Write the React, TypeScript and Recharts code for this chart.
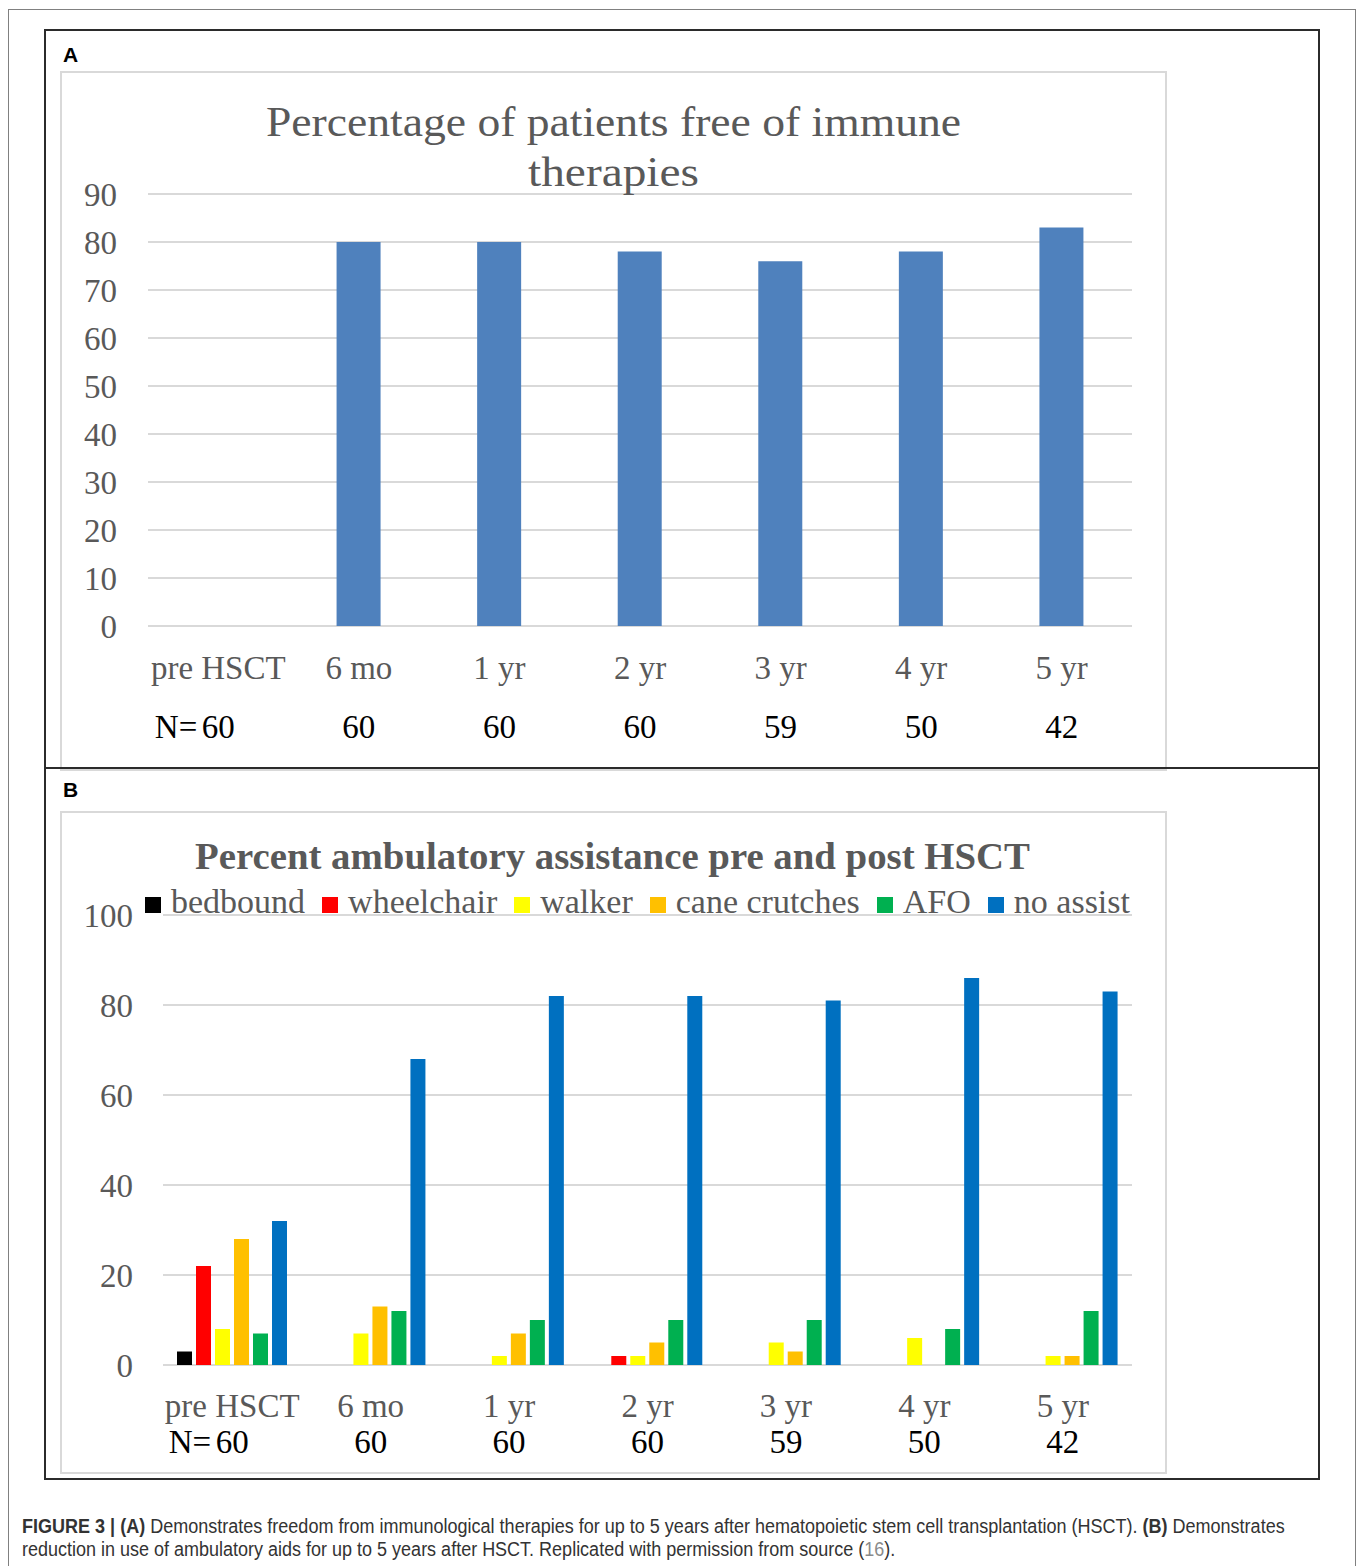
import React, { useLayoutEffect, useRef, useState } from 'react';
import { BarChart, Bar, XAxis, YAxis, CartesianGrid } from 'recharts';

// time points and number of patients at each
const categories = ['pre HSCT', '6 mo', '1 yr', '2 yr', '3 yr', '4 yr', '5 yr'];
const nCounts = [60, 60, 60, 60, 59, 50, 42];

// panel A: % free of immune therapies
const freeOfImmuneTherapy = [0, 80, 80, 78, 76, 78, 83];
const ticksA = [0, 10, 20, 30, 40, 50, 60, 70, 80, 90];

// panel B: % by ambulatory assistance
const bedbound = [3, 0, 0, 0, 0, 0, 0];
const wheelchair = [22, 0, 0, 2, 0, 0, 0];
const walker = [8, 7, 2, 2, 5, 6, 2];
const caneCrutches = [28, 13, 7, 5, 3, 0, 2];
const afo = [7, 12, 10, 10, 10, 8, 12];
const noAssist = [32, 68, 82, 82, 81, 86, 83];
const ticksB = [0, 20, 40, 60, 80, 100];

const seriesB = [
  { key: 'bedbound', name: 'bedbound', color: '#000000', values: bedbound },
  { key: 'wheelchair', name: 'wheelchair', color: '#ff0000', values: wheelchair },
  { key: 'walker', name: 'walker', color: '#ffff00', values: walker },
  { key: 'cane', name: 'cane crutches', color: '#ffc000', values: caneCrutches },
  { key: 'afo', name: 'AFO', color: '#00b050', values: afo },
  { key: 'none', name: 'no assist', color: '#0070c0', values: noAssist },
];

const dataA = categories.map((c, i) => ({ cat: c, free: freeOfImmuneTherapy[i] }));
const dataB = categories.map((c, i) => {
  const row: Record<string, string | number> = { cat: c };
  seriesB.forEach((s) => (row[s.key] = s.values[i]));
  return row;
});

const SERIF = '"Liberation Serif", "Times New Roman", serif';
const SANS = '"Liberation Sans", Arial, sans-serif';
const GRAY = '#595959';
const GRID = '#d9d9d9';

// category label + "N=" row under each group
// eslint-disable-next-line @typescript-eslint/no-explicit-any
function CategoryTick(props: any) {
  const { x, y, payload, labelDy, nDy } = props;
  const i = categories.indexOf(payload.value);
  return (
    <g fontFamily={SERIF} fontSize={33}>
      <text x={x} y={y + labelDy} textAnchor="middle" fill={GRAY}>
        {payload.value}
      </text>
      {i === 0 && (
        <text x={x - 21} y={y + nDy} textAnchor="end" fill="#000">
          N=
        </text>
      )}
      <text x={x} y={y + nDy} textAnchor="middle" fill="#000">
        {nCounts[i]}
      </text>
    </g>
  );
}

// caption line squeezed horizontally to the width of the original (condensed face)
function CaptionLine({ top, width, children }: { top: number; width: number; children: React.ReactNode }) {
  const ref = useRef<HTMLSpanElement>(null);
  const [scale, setScale] = useState(1);
  useLayoutEffect(() => {
    if (ref.current) setScale(width / ref.current.offsetWidth);
  }, [width]);
  return (
    <span
      ref={ref}
      style={{
        position: 'absolute',
        left: 22,
        top,
        whiteSpace: 'nowrap',
        fontFamily: SANS,
        fontSize: 19.5,
        lineHeight: '22px',
        color: '#333',
        transform: `scaleX(${scale})`,
        transformOrigin: '0 0',
      }}
    >
      {children}
    </span>
  );
}

const yTick = { fill: GRAY, fontSize: 33, fontFamily: SERIF };

export default function App() {
  return (
    <div style={{ position: 'relative', width: 1357, height: 1566, background: '#fff', overflow: 'hidden' }}>
      <style>{'body{margin:0}'}</style>

      {/* outer page frame */}
      <div style={{ position: 'absolute', left: 8, top: 9, width: 1348, height: 1600, border: '1px solid #808080', boxSizing: 'border-box' }} />
      {/* chart frames */}
      <div style={{ position: 'absolute', left: 60, top: 71, width: 1107, height: 700, border: `2px solid ${GRID}`, boxSizing: 'border-box' }} />
      <div style={{ position: 'absolute', left: 60, top: 811, width: 1107, height: 663, border: `2px solid ${GRID}`, boxSizing: 'border-box' }} />
      {/* black figure box with divider */}
      <div style={{ position: 'absolute', left: 44, top: 29, width: 1276, height: 1451, border: '2px solid #2b2b2b', boxSizing: 'border-box' }} />
      <div style={{ position: 'absolute', left: 44, top: 767, width: 1276, height: 2, background: '#2b2b2b' }} />

      <div style={{ position: 'absolute', left: 60, top: 71 }}>
        <BarChart width={1106} height={697} data={dataA} margin={{ top: 123, right: 34, left: 0, bottom: 0 }}>
          <CartesianGrid vertical={false} stroke={GRID} strokeWidth={2} />
          <XAxis
            dataKey="cat"
            axisLine={false}
            tickLine={false}
            tickSize={0}
            tickMargin={0}
            height={142}
            interval={0}
            tick={<CategoryTick labelDy={53} nDy={112} />}
          />
          <YAxis
            domain={[0, 90]}
            ticks={ticksA}
            width={88}
            axisLine={false}
            tickLine={false}
            tickSize={0}
            tickMargin={31}
            tick={yTick}
          />
          <Bar dataKey="free" fill="#4f81bd" barSize={44} isAnimationActive={false} />
        </BarChart>
      </div>

      <div style={{ position: 'absolute', left: 61, top: 811 }}>
        <BarChart width={1105} height={662} data={dataB} margin={{ top: 104, right: 34, left: 0, bottom: 0 }} barGap={4}>
          <CartesianGrid vertical={false} stroke={GRID} strokeWidth={2} />
          <XAxis
            dataKey="cat"
            axisLine={false}
            tickLine={false}
            tickSize={0}
            tickMargin={0}
            height={108}
            interval={0}
            tick={<CategoryTick labelDy={52} nDy={88} />}
          />
          <YAxis
            domain={[0, 100]}
            ticks={ticksB}
            width={102}
            axisLine={false}
            tickLine={false}
            tickSize={0}
            tickMargin={30}
            tick={yTick}
          />
          {seriesB.map((s) => (
            <Bar key={s.key} dataKey={s.key} name={s.name} fill={s.color} barSize={15} isAnimationActive={false} />
          ))}
        </BarChart>
      </div>

      {/* legend for B */}
      <div
        style={{
          position: 'absolute',
          left: 140,
          top: 885,
          width: 995,
          display: 'flex',
          justifyContent: 'center',
          alignItems: 'baseline',
          fontFamily: SERIF,
          fontSize: 34,
          lineHeight: '34px',
          color: GRAY,
          whiteSpace: 'nowrap',
        }}
      >
        {seriesB.map((s, i) => (
          <span key={s.key} style={{ display: 'inline-flex', alignItems: 'baseline', marginLeft: i === 0 ? 0 : 17 }}>
            <span style={{ display: 'inline-block', width: 16, height: 16, background: s.color, marginRight: 10 }} />
            {s.name}
          </span>
        ))}
      </div>

      {/* titles and panel letters */}
      <svg width={1357} height={1500} style={{ position: 'absolute', left: 0, top: 0, pointerEvents: 'none' }}>
        <text x={63} y={62} fontFamily={SANS} fontWeight="bold" fontSize={21} fill="#000">A</text>
        <text x={63} y={797} fontFamily={SANS} fontWeight="bold" fontSize={21} fill="#000">B</text>

        <g fontFamily={SERIF} fill={GRAY}>
          <text x={266} y={136} fontSize={42} textLength={695} lengthAdjust="spacingAndGlyphs">
            Percentage of patients free of immune
          </text>
          <text x={528} y={186} fontSize={42} textLength={171} lengthAdjust="spacingAndGlyphs">
            therapies
          </text>
          <text x={195} y={869} fontSize={37} fontWeight="bold" textLength={835} lengthAdjust="spacingAndGlyphs">
            Percent ambulatory assistance pre and post HSCT
          </text>
        </g>
      </svg>

      {/* caption */}
      <CaptionLine top={1515} width={1263}>
        <b>FIGURE 3 | (A)</b> Demonstrates freedom from immunological therapies for up to 5 years after hematopoietic stem cell
        transplantation (HSCT). <b>(B)</b> Demonstrates
      </CaptionLine>
      <CaptionLine top={1538} width={873}>
        reduction in use of ambulatory aids for up to 5 years after HSCT. Replicated with permission from source (
        <span style={{ color: '#8a8a8a' }}>16</span>).
      </CaptionLine>
    </div>
  );
}
